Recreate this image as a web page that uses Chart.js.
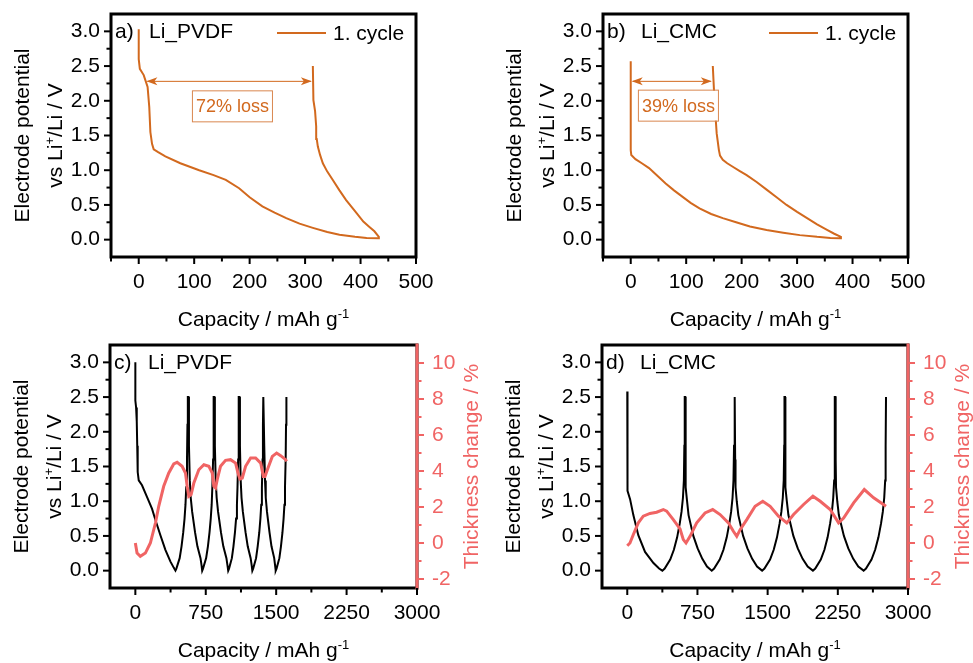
<!DOCTYPE html>
<html>
<head>
<meta charset="utf-8">
<script src="https://cdn.jsdelivr.net/npm/chart.js@4.4.0/dist/chart.umd.min.js"></script>
<style>
  body { margin: 0; background: #fff; }
  #wrap { position: relative; width: 973px; height: 663px; }
  #wrap canvas { position: absolute; }
</style>
</head>
<body>
<div id="wrap">
  <canvas id="chartA" width="486" height="330" style="left:0;top:0"></canvas>
  <canvas id="chartB" width="486" height="330" style="left:487px;top:0"></canvas>
  <canvas id="chartC" width="486" height="333" style="left:0;top:330px"></canvas>
  <canvas id="chartD" width="486" height="333" style="left:487px;top:330px"></canvas>
</div>
<script>
// tick values
const capTicksShort = [0, 100, 200, 300, 400, 500];
const capMinorShort = [-50, 50, 150, 250, 350, 450];
const capTicksLong = [0, 750, 1500, 2250, 3000];
const capMinorLong = [375, 1125, 1875, 2625];
const potTicks = [0, 0.5, 1.0, 1.5, 2.0, 2.5, 3.0];
const potMinor = [0.25, 0.75, 1.25, 1.75, 2.25, 2.75];
const thickTicks = [-2, 0, 2, 4, 6, 8, 10];
const thickMinor = [-1, 1, 3, 5, 7, 9];

// a) Li_PVDF, 1. cycle
const pvdfCap1 = [0, 0, 2, 9, 16, 19, 21, 24, 27, 35, 48, 75, 109, 135, 157, 181, 200, 223, 245, 266,
  290, 314, 340, 362, 390, 411, 432, 433, 425, 415, 405, 390, 374, 362, 350, 340, 332, 327, 323, 321,
  320, 318, 315, 314];
const pvdfPot1 = [3.03, 2.6, 2.46, 2.37, 2.2, 1.91, 1.55, 1.38, 1.30, 1.26, 1.2, 1.1, 1.0, 0.93, 0.86, 0.74, 0.61, 0.48, 0.39, 0.31,
  0.23, 0.17, 0.11, 0.07, 0.04, 0.025, 0.02, 0.04, 0.12, 0.19, 0.26, 0.41, 0.57, 0.71, 0.86, 0.98, 1.10, 1.22, 1.34, 1.45,
  1.63, 1.85, 2.01, 2.5];

// b) Li_CMC, 1. cycle
const cmcCap1 = [0, 0, 0, 1, 8.5, 20, 33, 48, 63, 78, 93, 108, 124, 145, 166, 190, 215, 245, 275, 305, 336, 360, 378,
  379, 367, 354, 336, 318, 300, 281, 263, 245, 227, 209, 196, 184, 174, 166, 161, 159, 155, 151, 148];
const cmcPot1 = [2.57, 1.8, 1.29, 1.22, 1.16, 1.10, 1.03, 0.92, 0.81, 0.71, 0.62, 0.53, 0.45, 0.37, 0.31, 0.25, 0.19, 0.14, 0.10, 0.065, 0.04, 0.025, 0.02,
  0.04, 0.085, 0.14, 0.22, 0.31, 0.40, 0.50, 0.61, 0.72, 0.83, 0.93, 0.99, 1.05, 1.10, 1.15, 1.21, 1.29, 1.53, 2.01, 2.5];

// loss arrows: [PVDF, CMC]
const lossFrom = [12, 0];
const lossTo = [314, 148];
const lossLevel = [2.28, 2.28];
const lossLabelX = [169, 86];
const lossLabelY = [1.92, 1.93];
const lossText = ['72% loss', '39% loss'];

// c) Li_PVDF, cycling
const pvdfCap = [
  0, 0, 8, 15, 20, 25, 36, 71, 125, 178, 214, 267, 320, 374, 410, 427,
  437, 472, 492, 510, 524, 534, 542, 550, 555, 559,
  566, 571, 580, 590, 605, 636, 661, 694, 706, 712,
  721, 754, 773, 790, 803, 813, 820, 828, 832, 836,
  842, 847, 856, 866, 881, 912, 937, 970, 982, 989,
  998, 1028, 1045, 1061, 1073, 1082, 1088, 1095, 1099, 1103,
  1109, 1114, 1122, 1131, 1145, 1174, 1197, 1228, 1240, 1246,
  1255, 1286, 1303, 1320, 1332, 1341, 1348, 1355, 1359, 1363,
  1369, 1373, 1381, 1389, 1402, 1429, 1450, 1479, 1489, 1495,
  1504, 1534, 1551, 1567, 1579, 1588, 1594, 1601, 1605, 1609];
const pvdfPot = [
  3.0, 2.45, 2.35, 2.15, 1.8, 1.42, 1.3, 1.23, 1.06, 0.89, 0.73, 0.51, 0.30, 0.13, 0.04, 0.0,
  0.03, 0.18, 0.35, 0.55, 0.75, 0.95, 1.2, 1.6, 2.1, 2.5,
  2.5, 1.8, 1.3, 1.05, 0.85, 0.55, 0.35, 0.18, 0.07, 0.0,
  0.03, 0.18, 0.35, 0.55, 0.75, 0.95, 1.2, 1.6, 2.1, 2.5,
  2.5, 1.8, 1.3, 1.05, 0.85, 0.55, 0.35, 0.18, 0.07, 0.0,
  0.03, 0.18, 0.35, 0.55, 0.75, 0.95, 1.2, 1.6, 2.1, 2.5,
  2.5, 1.8, 1.3, 1.05, 0.85, 0.55, 0.35, 0.18, 0.07, 0.0,
  0.03, 0.18, 0.35, 0.55, 0.75, 0.95, 1.2, 1.6, 2.1, 2.5,
  2.5, 1.8, 1.3, 1.05, 0.85, 0.55, 0.35, 0.18, 0.07, 0.0,
  0.03, 0.18, 0.35, 0.55, 0.75, 0.95, 1.2, 1.6, 2.1, 2.5];
const pvdfThickCap = [0, 18, 53, 107, 160, 214, 249, 302, 356, 409, 445, 498, 534, 552, 569, 594, 623, 676, 730, 783,
  819, 836, 854, 872, 907, 961, 1014, 1068, 1093, 1114, 1139, 1174, 1228, 1281, 1335, 1363, 1381, 1406, 1459, 1505,
  1548, 1601, 1612];
const pvdfThick = [0, -0.56, -0.74, -0.56, 0, 1.11, 2.04, 3.15, 3.89, 4.39, 4.48, 4.26, 3.89, 3.15, 2.59, 2.69, 3.33, 4.07, 4.35, 4.26,
  3.89, 3.15, 3.06, 3.52, 4.26, 4.59, 4.63, 4.44, 3.89, 3.56, 3.61, 4.26, 4.72, 4.72, 4.44, 3.70, 3.70, 4.07, 4.81, 5.0,
  4.85, 4.63, 4.54];

// d) Li_CMC, cycling
const cmcCap = [
  0, 0, 2, 6, 30, 65, 118, 190, 280, 340, 375,
  400, 459, 498, 533, 561, 580, 595, 605, 610, 614,
  620, 622, 626, 639, 655, 706, 752, 802, 852, 903,
  928, 988, 1028, 1063, 1091, 1110, 1125, 1135, 1141, 1145,
  1151, 1153, 1157, 1170, 1187, 1238, 1284, 1335, 1387, 1441,
  1466, 1526, 1565, 1600, 1628, 1647, 1662, 1672, 1677, 1680,
  1686, 1688, 1692, 1705, 1722, 1775, 1822, 1874, 1928, 1984,
  2009, 2068, 2107, 2141, 2168, 2187, 2201, 2211, 2216, 2219,
  2225, 2227, 2231, 2244, 2261, 2315, 2362, 2415, 2469, 2526,
  2551, 2610, 2649, 2684, 2712, 2731, 2746, 2756, 2761, 2765];
const cmcPot = [
  2.58, 1.6, 1.25, 1.15, 1.03, 0.8, 0.51, 0.27, 0.11, 0.03, 0.0,
  0.03, 0.16, 0.3, 0.48, 0.68, 0.85, 1.05, 1.3, 1.8, 2.5,
  2.5, 1.6, 1.2, 1.0, 0.8, 0.5, 0.32, 0.17, 0.06, 0.0,
  0.03, 0.16, 0.3, 0.48, 0.68, 0.85, 1.05, 1.3, 1.8, 2.5,
  2.5, 1.6, 1.2, 1.0, 0.8, 0.5, 0.32, 0.17, 0.06, 0.0,
  0.03, 0.16, 0.3, 0.48, 0.68, 0.85, 1.05, 1.3, 1.8, 2.5,
  2.5, 1.6, 1.2, 1.0, 0.8, 0.5, 0.32, 0.17, 0.06, 0.0,
  0.03, 0.16, 0.3, 0.48, 0.68, 0.85, 1.05, 1.3, 1.8, 2.5,
  2.5, 1.6, 1.2, 1.0, 0.8, 0.5, 0.32, 0.17, 0.06, 0.0,
  0.03, 0.16, 0.3, 0.48, 0.68, 0.85, 1.05, 1.3, 1.8, 2.5];
const cmcThickCap = [0, 29, 64, 118, 171, 243, 314, 385, 421, 492, 564, 599, 628, 671, 742, 831, 913, 992, 1081, 1134,
  1170, 1206, 1277, 1366, 1448, 1527, 1616, 1705, 1777, 1884, 1984, 2062, 2169, 2258, 2312, 2419, 2533, 2633, 2765];
const cmcThick = [-0.15, 0, 0.46, 1.12, 1.49, 1.64, 1.71, 1.86, 1.77, 1.30, 0.78, 0.19, 0, 0.37, 1.12, 1.67, 1.86, 1.58, 1.12, 0.65,
  0.37, 0.74, 1.30, 2.04, 2.32, 2.04, 1.49, 1.12, 1.58, 2.14, 2.60, 2.32, 1.86, 1.12, 1.39, 2.23, 2.97, 2.51, 2.04];

const FONT = "'Liberation Sans', Arial, sans-serif";
const ORANGE = '#d2691e';
const RED = '#f06464';

const xTitle = [{t: 'Capacity / mAh g'}, {t: '-1', sup: true}];
const yTitle1 = [{t: 'Electrode potential'}];
const yTitle2 = [{t: 'vs Li'}, {t: '+', sup: true}, {t: '/Li / V'}];
const y2Title = [{t: 'Thickness change / %'}];

function pts(xs, ys) {
  return xs.map((x, i) => ({x: x, y: ys[i]}));
}

// text with superscripts, centred on (x, y)
function richText(ctx, parts, x, y, rot, size, color) {
  ctx.save();
  ctx.translate(x, y);
  ctx.rotate(rot);
  ctx.fillStyle = color;
  ctx.textBaseline = 'alphabetic';
  ctx.textAlign = 'left';
  let w = 0;
  parts.forEach(p => {
    ctx.font = (p.sup ? Math.round(size * 0.62) : size) + 'px ' + FONT;
    w += ctx.measureText(p.t).width;
  });
  let cx = -w / 2;
  parts.forEach(p => {
    ctx.font = (p.sup ? Math.round(size * 0.62) : size) + 'px ' + FONT;
    ctx.fillText(p.t, cx, p.sup ? size * 0.35 - size * 0.42 : size * 0.35);
    cx += ctx.measureText(p.t).width;
  });
  ctx.restore();
}

// outward tick marks, drawn as small filled rects
function drawTicks(ctx, scale, vals, len, horiz, side) {
  vals.forEach(v => {
    const p = scale.getPixelForValue(v);
    if (horiz) ctx.fillRect(p - 1, side, 2, len);
    else ctx.fillRect(len < 0 ? side + len : side, p - 1, Math.abs(len), 2);
  });
}

const decor = {
  id: 'decor',
  afterDraw(chart, args, o) {
    const {ctx, chartArea: a, scales} = chart;
    ctx.save();
    // frame
    ctx.lineWidth = 3;
    ctx.strokeStyle = '#000';
    ctx.strokeRect(a.left, a.top, a.right - a.left, a.bottom - a.top);
    if (o.right) {
      ctx.strokeStyle = RED;
      ctx.beginPath();
      ctx.moveTo(a.right, a.top - 1.5);
      ctx.lineTo(a.right, a.bottom + 1.5);
      ctx.stroke();
    }
    // ticks
    ctx.fillStyle = '#000';
    drawTicks(ctx, scales.x, o.xMajor, 7, true, a.bottom);
    drawTicks(ctx, scales.x, o.xMinor, 4.5, true, a.bottom);
    drawTicks(ctx, scales.y, potTicks, -7, false, a.left);
    drawTicks(ctx, scales.y, potMinor, -4.5, false, a.left);
    if (o.right) {
      ctx.fillStyle = RED;
      drawTicks(ctx, scales.y2, thickTicks, 7, false, a.right);
      drawTicks(ctx, scales.y2, thickMinor, 4.5, false, a.right);
    }
    // axis titles
    const cx = (a.left + a.right) / 2, cy = (a.top + a.bottom) / 2;
    richText(ctx, xTitle, cx, a.bottom + 62, 0, 21, '#000');
    richText(ctx, yTitle1, a.left - 89, cy, -Math.PI / 2, 21, '#000');
    richText(ctx, yTitle2, a.left - 56, cy, -Math.PI / 2, 21, '#000');
    if (o.right) richText(ctx, y2Title, a.right + 54, cy, -Math.PI / 2, 21, RED);
    // panel label
    ctx.fillStyle = '#000';
    ctx.font = '21px ' + FONT;
    ctx.textBaseline = 'middle';
    ctx.textAlign = 'left';
    ctx.fillText(o.tag, a.left + 4, a.top + 18);
    ctx.fillText(o.name, a.left + 38, a.top + 18);
    // legend
    if (o.legend) {
      ctx.strokeStyle = ORANGE;
      ctx.lineWidth = 2;
      ctx.beginPath();
      ctx.moveTo(a.left + 166, a.top + 19);
      ctx.lineTo(a.left + 215, a.top + 19);
      ctx.stroke();
      ctx.fillText(o.legend, a.left + 222, a.top + 20);
    }
    // capacity loss arrow + label
    if (o.loss != null) {
      const i = o.loss;
      const x1 = scales.x.getPixelForValue(lossFrom[i]);
      const x2 = scales.x.getPixelForValue(lossTo[i]);
      const y = scales.y.getPixelForValue(lossLevel[i]);
      ctx.strokeStyle = ORANGE;
      ctx.fillStyle = ORANGE;
      ctx.lineWidth = 1;
      ctx.beginPath();
      ctx.moveTo(x1 + 2, y); ctx.lineTo(x2 - 2, y);
      ctx.stroke();
      [[x1, 1], [x2, -1]].forEach(([x, d]) => {
        ctx.beginPath();
        ctx.moveTo(x + d, y);
        ctx.lineTo(x + d * 12, y - 4);
        ctx.lineTo(x + d * 9, y);
        ctx.lineTo(x + d * 12, y + 4);
        ctx.closePath();
        ctx.fill();
      });
      const tx = scales.x.getPixelForValue(lossLabelX[i]);
      const ty = scales.y.getPixelForValue(lossLabelY[i]);
      ctx.font = '18px ' + FONT;
      ctx.textAlign = 'center';
      ctx.textBaseline = 'middle';
      const tw = ctx.measureText(lossText[i]).width;
      ctx.fillStyle = '#fff';
      ctx.fillRect(tx - tw / 2 - 3, ty - 15, tw + 6, 30);
      ctx.strokeStyle = '#d9874f';
      ctx.strokeRect(tx - tw / 2 - 3.5, ty - 15.5, tw + 7, 31);
      ctx.fillStyle = ORANGE;
      ctx.fillText(lossText[i], tx, ty + 1);
    }
    ctx.restore();
  }
};

function noPad(s) {
  s.paddingTop = 0; s.paddingBottom = 0; s.paddingLeft = 0; s.paddingRight = 0;
}

function panel(id, o) {
  const tickFont = {family: FONT, size: 21};
  const scales = {
    x: {
      type: 'linear', min: o.xMin, max: o.xMax,
      grid: {display: false, drawTicks: false}, border: {display: false},
      afterBuildTicks: s => { s.ticks = o.xMajor.map(v => ({value: v})); },
      afterFit: s => { s.height = o.bottom; noPad(s); },
      ticks: {font: tickFont, color: '#000', padding: 13, maxRotation: 0, callback: v => String(v)}
    },
    y: {
      type: 'linear', min: -0.25, max: 3.25,
      grid: {display: false, drawTicks: false}, border: {display: false},
      afterBuildTicks: s => { s.ticks = potTicks.map(v => ({value: v})); },
      afterFit: s => { s.width = o.left; noPad(s); },
      ticks: {font: tickFont, color: '#000', padding: 11, callback: v => v.toFixed(1)}
    }
  };
  if (o.right) {
    scales.y2 = {
      type: 'linear', position: 'right', min: -2.5, max: 11,
      grid: {display: false, drawTicks: false}, border: {display: false},
      afterBuildTicks: s => { s.ticks = thickTicks.map(v => ({value: v})); },
      afterFit: s => { s.width = o.rightW; noPad(s); },
      ticks: {font: tickFont, color: RED, padding: 15, callback: v => String(v)}
    };
  }
  return new Chart(document.getElementById(id), {
    type: 'scatter',
    data: {datasets: o.datasets},
    options: {
      responsive: false,
      animation: false,
      layout: {padding: {top: o.top, right: o.padRight || 0, left: 0, bottom: 0}},
      plugins: {legend: {display: false}, tooltip: {enabled: false}, decor: o},
      scales: scales
    },
    plugins: [decor]
  });
}

function line(xs, ys, color, width, axis) {
  return {data: pts(xs, ys), borderColor: color, borderWidth: width, showLine: true,
    pointRadius: 0, tension: 0, yAxisID: axis || 'y'};
}

panel('chartA', {
  tag: 'a)', name: 'Li_PVDF', legend: '1. cycle', loss: 0,
  xMin: -50, xMax: 500, xMajor: capTicksShort, xMinor: capMinorShort,
  left: 111, top: 14, bottom: 73, padRight: 70,
  datasets: [line(pvdfCap1, pvdfPot1, ORANGE, 2)]
});
panel('chartB', {
  tag: 'b)', name: 'Li_CMC', legend: '1. cycle', loss: 1,
  xMin: -50, xMax: 500, xMajor: capTicksShort, xMinor: capMinorShort,
  left: 116, top: 14, bottom: 73, padRight: 65,
  datasets: [line(cmcCap1, cmcPot1, ORANGE, 2)]
});
panel('chartC', {
  tag: 'c)', name: 'Li_PVDF', right: true,
  xMin: -270, xMax: 3000, xMajor: capTicksLong, xMinor: capMinorLong,
  left: 110, top: 15, bottom: 75, rightW: 69,
  datasets: [line(pvdfThickCap, pvdfThick, RED, 3, 'y2'), line(pvdfCap, pvdfPot, '#000', 2)]
});
panel('chartD', {
  tag: 'd)', name: 'Li_CMC', right: true,
  xMin: -270, xMax: 3000, xMajor: capTicksLong, xMinor: capMinorLong,
  left: 115, top: 15, bottom: 75, rightW: 65,
  datasets: [line(cmcThickCap, cmcThick, RED, 3, 'y2'), line(cmcCap, cmcPot, '#000', 2)]
});
</script>
</body>
</html>
